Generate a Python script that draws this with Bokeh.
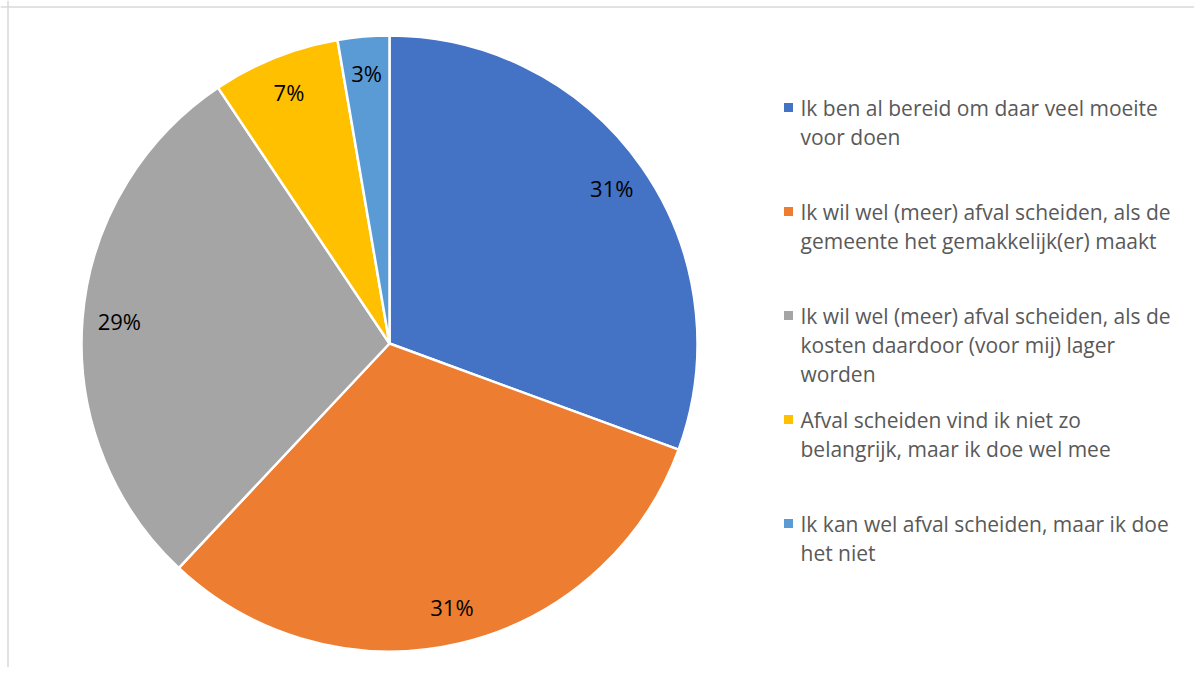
import numpy as np
from bokeh.plotting import figure
from bokeh.models import Range1d, Span, ColumnDataSource
from bokeh.core.properties import value
from bokeh.embed import file_html
from bokeh.resources import INLINE

categories = [
    "Ik ben al bereid om daar veel moeite\nvoor doen",
    "Ik wil wel (meer) afval scheiden, als de\ngemeente het gemakkelijk(er) maakt",
    "Ik wil wel (meer) afval scheiden, als de\nkosten daardoor (voor mij) lager\nworden",
    "Afval scheiden vind ik niet zo\nbelangrijk, maar ik doe wel mee",
    "Ik kan wel afval scheiden, maar ik doe\nhet niet",
]
shares = [30.6, 31.4, 28.6, 6.7, 2.7]
pct_labels = ["31%", "31%", "29%", "7%", "3%"]
colors = ["#4472C4", "#ED7D31", "#A5A5A5", "#FFC000", "#5B9BD5"]

W, H = 1194, 667
p = figure(width=W, height=H, output_backend="svg", toolbar_location=None,
           x_range=Range1d(0, W), y_range=Range1d(0, H),
           min_border=0, outline_line_color=None)
p.axis.visible = False
p.grid.visible = False

cx, cy, R = 389, H - 343, 308
vals = np.array(shares, dtype=float)
frac = vals / vals.sum()
cum = np.concatenate([[0], np.cumsum(frac)])
start = np.pi / 2 - cum[1:] * 2 * np.pi
end = np.pi / 2 - cum[:-1] * 2 * np.pi
mid = (start + end) / 2

src = ColumnDataSource(dict(start=start, end=end, color=colors))
p.wedge(x=cx, y=cy, radius=R, start_angle="start", end_angle="end",
        fill_color="color", line_color="white", line_width=2.5, source=src)

lr = 0.88 * R
p.text(x=cx + lr * np.cos(mid), y=cy + lr * np.sin(mid), text=pct_labels,
       text_font=value("Open Sans"), text_font_size="22px", text_color="#000000",
       text_align="center", text_baseline="middle")

# legend
lx, ly0, step, lh = 800, H - 107, 104, 29
sq_x, sq_y, tx, ty, tt = [], [], [], [], []
for i, lab in enumerate(categories):
    y0 = ly0 - i * step
    sq_x.append(lx - 12)
    sq_y.append(y0)
    for j, line in enumerate(lab.split("\n")):
        tx.append(lx)
        ty.append(y0 - j * lh)
        tt.append(line)
p.scatter(x=sq_x, y=sq_y, marker="square", size=9, color=colors, line_color=None)
p.text(x=tx, y=ty, text=tt, text_font=value("Open Sans"), text_font_size="21px",
       text_color="#595959", text_align="left", text_baseline="middle")

p.add_layout(Span(location=H - 6.5, dimension="width", line_color="#d9d9d9", line_width=1.5))
p.add_layout(Span(location=7.5, dimension="height", line_color="#d9d9d9", line_width=1.5))

open("out.html", "w").write(file_html(p, INLINE))
